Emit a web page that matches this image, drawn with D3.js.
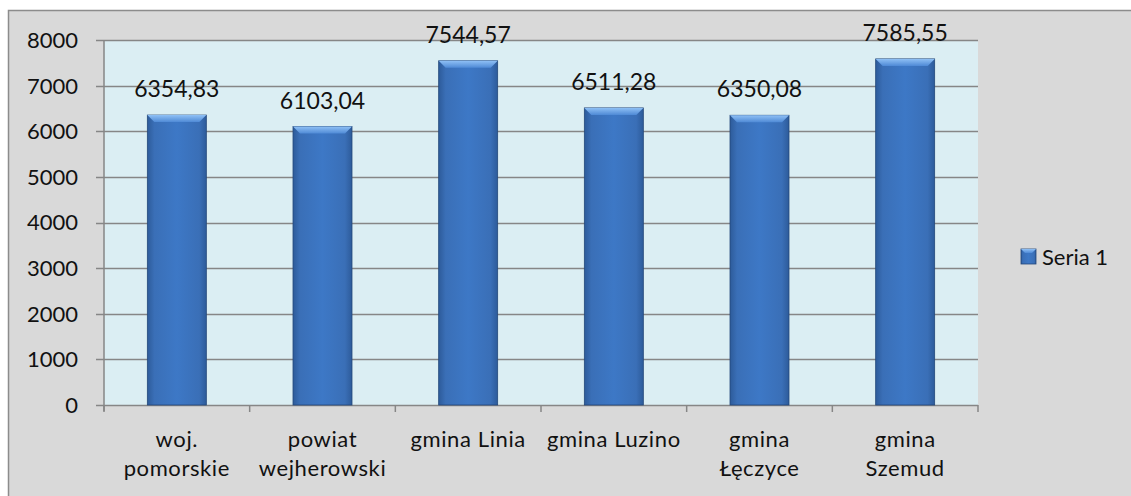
<!DOCTYPE html>
<html>
<head>
<meta charset="utf-8">
<script src="https://cdn.jsdelivr.net/npm/d3@7"></script>
<style>
  body { margin: 0; background: #fff; }
  svg { display: block; font-family: Lato, "Open Sans", sans-serif; }
</style>
</head>
<body>
<svg id="chart"></svg>
<script>
var width = 1131;
var height = 496;

// data
var categories = ["woj. pomorskie", "powiat wejherowski", "gmina Linia", "gmina Luzino", "gmina Łęczyce", "gmina Szemud"];
var labelLines = [["woj.", "pomorskie"], ["powiat", "wejherowski"], ["gmina Linia"], ["gmina Luzino"], ["gmina", "Łęczyce"], ["gmina", "Szemud"]];
var values = [6354.83, 6103.04, 7544.57, 6511.28, 6350.08, 7585.55];
var yTicks = [0, 1000, 2000, 3000, 4000, 5000, 6000, 7000, 8000];
var seriesName = "Seria 1";

var plot = { left: 104, right: 978, top: 40, bottom: 405 };

var svg = d3.select("#chart").attr("width", width).attr("height", height);

var defs = svg.append("defs");
var g1 = defs.append("linearGradient").attr("id", "barGrad").attr("x1", 0).attr("x2", 1).attr("y1", 0).attr("y2", 0);
g1.append("stop").attr("offset", "0%").attr("stop-color", "#2d5b9a");
g1.append("stop").attr("offset", "12%").attr("stop-color", "#3a6fb7");
g1.append("stop").attr("offset", "50%").attr("stop-color", "#3d78c6");
g1.append("stop").attr("offset", "88%").attr("stop-color", "#3a6fb7");
g1.append("stop").attr("offset", "100%").attr("stop-color", "#2d5b9a");
var g2 = defs.append("linearGradient").attr("id", "bevelGrad").attr("x1", 0).attr("x2", 0).attr("y1", 0).attr("y2", 1);
g2.append("stop").attr("offset", "0%").attr("stop-color", "#8fc0f5");
g2.append("stop").attr("offset", "100%").attr("stop-color", "#4f8ad6");

// outer chart frame
svg.append("rect")
  .attr("x", 8.5).attr("y", 10.5)
  .attr("width", width).attr("height", height)
  .attr("fill", "#d9d9d9")
  .attr("stroke", "#8c8c8c").attr("stroke-width", 1.5);

var x = d3.scaleBand()
  .domain(categories)
  .range([plot.left, plot.right])
  .paddingInner(0.595).paddingOuter(0.2975);

var y = d3.scaleLinear().domain([0, 8000]).range([plot.bottom, plot.top]);

// plot area
svg.append("rect")
  .attr("x", plot.left).attr("y", plot.top)
  .attr("width", plot.right - plot.left).attr("height", plot.bottom - plot.top)
  .attr("fill", "#dbeef3");

// gridlines
svg.append("g")
  .selectAll("line")
  .data(yTicks)
  .enter()
  .append("line")
    .attr("x1", plot.left - 8).attr("x2", plot.right)
    .attr("y1", d => Math.round(y(d)) + 0.5).attr("y2", d => Math.round(y(d)) + 0.5)
    .attr("stroke", "#868686").attr("stroke-width", 1.5);

// y axis line
svg.append("line")
  .attr("x1", plot.left).attr("x2", plot.left)
  .attr("y1", plot.top).attr("y2", plot.bottom + 6)
  .attr("stroke", "#868686").attr("stroke-width", 1.5);

// x category tick marks
var bounds = d3.range(categories.length + 1).map(i => plot.left + i * (plot.right - plot.left) / categories.length);
svg.append("g")
  .selectAll("line")
  .data(bounds)
  .enter()
  .append("line")
    .attr("x1", d => d).attr("x2", d => d)
    .attr("y1", plot.bottom).attr("y2", plot.bottom + 7)
    .attr("stroke", "#868686").attr("stroke-width", 1.5);

// y tick labels
svg.append("g")
  .selectAll("text")
  .data(yTicks)
  .enter()
  .append("text")
    .attr("x", 78)
    .attr("y", d => y(d))
    .attr("dy", "0.36em")
    .attr("text-anchor", "end")
    .attr("font-size", 22)
    .attr("fill", "#111")
    .text(d => d);

// bars
var bars = svg.append("g")
  .selectAll("g")
  .data(values)
  .enter()
  .append("g");

bars.append("rect")
  .attr("x", (d, i) => x(categories[i]))
  .attr("y", d => y(d))
  .attr("width", x.bandwidth())
  .attr("height", d => y(0) - y(d))
  .attr("fill", "url(#barGrad)")
  .attr("stroke", "#24487a").attr("stroke-width", 0.8);

// top bevel
bars.append("path")
  .attr("d", function(d, i) {
    var x0 = x(categories[i]), x1 = x0 + x.bandwidth(), yt = y(d), b = 7;
    return "M" + x0 + "," + yt + "L" + x1 + "," + yt + "L" + (x1 - b) + "," + (yt + b) + "L" + (x0 + b) + "," + (yt + b) + "Z";
  })
  .attr("fill", "url(#bevelGrad)");

// value labels
svg.append("g")
  .selectAll("text")
  .data(values)
  .enter()
  .append("text")
    .attr("x", (d, i) => x(categories[i]) + x.bandwidth() / 2)
    .attr("y", d => y(d) - 18)
    .attr("text-anchor", "middle")
    .attr("font-size", 23)
    .attr("fill", "#111")
    .text(d => d3.format(".2f")(d).replace(".", ","));

// category labels
var catLabels = svg.append("g")
  .selectAll("text")
  .data(labelLines)
  .enter()
  .append("text")
    .attr("text-anchor", "middle")
    .attr("font-size", 22)
    .attr("letter-spacing", 0.6)
    .attr("fill", "#111");

catLabels.selectAll("tspan")
  .data((d, i) => d.map(t => ({ t: t, i: i })))
  .enter()
  .append("tspan")
    .attr("x", d => x(categories[d.i]) + x.bandwidth() / 2)
    .attr("y", (d, j) => 447 + j * 29)
    .text(d => d.t);

// legend
var legend = svg.append("g").attr("transform", "translate(1021,249)");
legend.append("rect")
  .attr("width", 15).attr("height", 15)
  .attr("fill", "url(#barGrad)")
  .attr("stroke", "#24487a").attr("stroke-width", 0.8);
legend.append("path")
  .attr("d", "M0,0L15,0L11,4L4,4Z")
  .attr("fill", "url(#bevelGrad)");
legend.append("text")
  .attr("x", 21).attr("y", 8)
  .attr("dy", "0.36em")
  .attr("font-size", 22)
  .attr("fill", "#111")
  .text(seriesName);
</script>
</body>
</html>
